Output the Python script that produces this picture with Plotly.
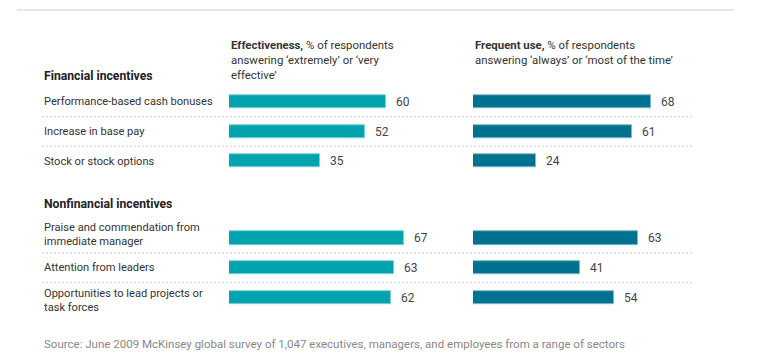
import plotly.graph_objects as go

W, H = 757, 361
FONT = "Roboto, Liberation Sans, sans-serif"

# ---- data ----
fin_labels = ["Performance-based cash bonuses", "Increase in base pay", "Stock or stock options"]
fin_effect = [60, 52, 35]
fin_freq = [68, 61, 24]

non_labels = ["Praise and commendation from<br>immediate manager", "Attention from leaders",
              "Opportunities to lead projects or<br>task forces"]
non_effect = [67, 63, 62]
non_freq = [63, 41, 54]

section_titles = ["Financial incentives", "Nonfinancial incentives"]
col_titles = ["<b>Effectiveness,</b> % of respondents<br>answering ‘extremely’ or ‘very<br>effective’",
              "<b>Frequent use,</b> % of respondents<br>answering ‘always’ or ‘most of the time’"]
source = "Source: June 2009 McKinsey global survey of 1,047 executives, managers, and employees from a range of sectors"

C_EFF = "#00A3AE"
C_EFF_L = "#7fd0d6"
C_FREQ = "#00728F"
C_FREQ_L = "#7fb8c7"


def px(x):
    return x / W


def py(y):
    return 1 - y / H


SCALE = 2.613  # px per percentage point
L0, L1 = 229, 440
R0, R1 = 473, 700

fig = go.Figure()

panels = [
    (fin_labels, fin_effect, "x", "y", C_EFF, C_EFF_L),
    (fin_labels, fin_freq, "x2", "y", C_FREQ, C_FREQ_L),
    (non_labels, non_effect, "x", "y2", C_EFF, C_EFF_L),
    (non_labels, non_freq, "x2", "y2", C_FREQ, C_FREQ_L),
]
for labels, vals, xa, ya, col, lcol in panels:
    fig.add_trace(go.Bar(
        x=vals, y=labels, orientation="h", xaxis=xa, yaxis=ya,
        marker=dict(color=col, line=dict(color=lcol, width=1)),
        width=0.45, hoverinfo="x+y", showlegend=False,
    ))
    for lab, v in zip(labels, vals):
        fig.add_annotation(x=v, y=lab, xref=xa, yref=ya, text=str(v), showarrow=False,
                           xanchor="left", xshift=8, font=dict(family=FONT, size=12, color="#444"))

# row labels and separators
label_shift = {"y": [0, 0, 0], "y2": [4, 0, -3]}
for labels, ya in [(fin_labels, "y"), (non_labels, "y2")]:
    for i, lab in enumerate(labels):
        fig.add_annotation(x=px(42), y=lab, xref="paper", yref=ya, text=lab, showarrow=False,
                           xanchor="left", align="left", yshift=label_shift[ya][i],
                           font=dict(family=FONT, size=11.1, color="#333"))
        if i < len(labels) - 1:
            fig.add_shape(type="line", xref="paper", yref=ya, x0=px(42), x1=px(692),
                          y0=i + 0.5, y1=i + 0.5, line=dict(color="#cfcfcf", width=1, dash="2px,2px"))

# section titles
for t, yy in zip(section_titles, [76.5, 204]):
    fig.add_annotation(x=px(42), y=py(yy), xref="paper", yref="paper", text="<b>" + t + "</b>",
                       showarrow=False, xanchor="left", yanchor="middle",
                       font=dict(family=FONT, size=12.2, color="#222"))

# column titles
for t, xx in zip(col_titles, [L0, R0]):
    fig.add_annotation(x=px(xx), y=py(36), xref="paper", yref="paper", text=t, showarrow=False,
                       xanchor="left", yanchor="top", align="left",
                       font=dict(family=FONT, size=11.4, color="#333"))

# source
fig.add_annotation(x=px(42), y=py(344), xref="paper", yref="paper", text=source, showarrow=False,
                   xanchor="left", yanchor="middle", font=dict(family=FONT, size=11.5, color="#888"))

# top rule
fig.add_shape(type="line", xref="paper", yref="paper", x0=px(17), x1=px(734), y0=py(10), y1=py(10),
              line=dict(color="#e6e6e6", width=2))

fig.update_layout(
    width=W, height=H, margin=dict(l=0, r=0, t=0, b=0),
    paper_bgcolor="white", plot_bgcolor="white", bargap=0,
    xaxis=dict(domain=[px(L0), px(L1)], range=[0, (L1 - L0) / SCALE], visible=False, fixedrange=True),
    xaxis2=dict(domain=[px(R0), px(R1)], range=[0, (R1 - R0) / SCALE], visible=False, fixedrange=True),
    yaxis=dict(domain=[py(175.75), py(87.25)], range=[2.5, -0.5], visible=False, type="category",
               fixedrange=True),
    yaxis2=dict(domain=[py(312.6), py(223.2)], range=[2.5, -0.5], visible=False, type="category",
                fixedrange=True),
    font=dict(family=FONT),
)

fig.write_html("out.html", config={"displayModeBar": False},
               post_script="document.body.style.margin='0';document.body.style.overflow='hidden';")
